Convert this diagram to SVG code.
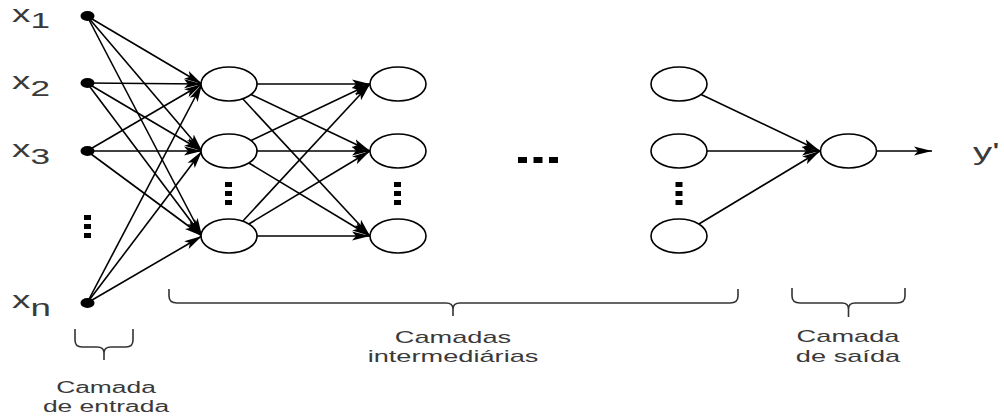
<svg xmlns="http://www.w3.org/2000/svg" width="1004" height="416" viewBox="0 0 1004 416">
  <style>
    .edge { stroke: #000; stroke-width: 1.6; fill: none; }
    .neuron { fill: #fff; stroke: #000; stroke-width: 1.6; }
    .dot { fill: #000; }
    .lbl { font-family: "Liberation Sans", Arial, sans-serif; fill: #3a3a3a; }
    .brace { stroke: #333; stroke-width: 1.6; fill: none; }
  </style>
  <defs>
    <marker id="arrow" markerUnits="userSpaceOnUse" markerWidth="18" markerHeight="10" viewBox="0 0 18 10" refX="18" refY="5" orient="auto">
      <path d="M0,0.5 L18,5 L0,9.5 L4,5 z" fill="#000"/>
    </marker>
  </defs>
  <rect width="1004" height="416" fill="#fff"/>

  <!-- connectors -->
  <g id="connectors">
    <!-- input layer to first hidden layer -->
    <g marker-end="url(#arrow)">
      <line class="edge" x1="87" y1="16" x2="202" y2="84"/>
      <line class="edge" x1="87" y1="16" x2="202" y2="151"/>
      <line class="edge" x1="87" y1="16" x2="202" y2="236"/>
      <line class="edge" x1="87" y1="83" x2="202" y2="84"/>
      <line class="edge" x1="87" y1="83" x2="202" y2="151"/>
      <line class="edge" x1="87" y1="83" x2="202" y2="236"/>
      <line class="edge" x1="87" y1="151" x2="202" y2="84"/>
      <line class="edge" x1="87" y1="151" x2="202" y2="151"/>
      <line class="edge" x1="87" y1="151" x2="202" y2="236"/>
      <line class="edge" x1="87" y1="303" x2="202" y2="84"/>
      <line class="edge" x1="87" y1="303" x2="202" y2="151"/>
      <line class="edge" x1="87" y1="303" x2="202" y2="236"/>
    </g>
    <!-- first hidden layer to second hidden layer -->
    <g marker-end="url(#arrow)">
      <line class="edge" x1="257" y1="84" x2="370" y2="84"/>
      <line class="edge" x1="251" y1="94.5" x2="370" y2="151"/>
      <line class="edge" x1="242.7" y1="98.8" x2="370" y2="236"/>
      <line class="edge" x1="251.1" y1="140.5" x2="370" y2="84"/>
      <line class="edge" x1="257" y1="151" x2="370" y2="151"/>
      <line class="edge" x1="248.9" y1="163" x2="370" y2="236"/>
      <line class="edge" x1="242.7" y1="221.2" x2="370" y2="84"/>
      <line class="edge" x1="248.9" y1="224" x2="370" y2="151"/>
      <line class="edge" x1="257" y1="236" x2="370" y2="236"/>
    </g>
    <!-- last hidden layer to output -->
    <g marker-end="url(#arrow)">
      <line class="edge" x1="701.1" y1="94.5" x2="820" y2="151"/>
      <line class="edge" x1="707" y1="151" x2="820" y2="151"/>
      <line class="edge" x1="698.9" y1="224" x2="820" y2="151"/>
      <line class="edge" x1="877" y1="151" x2="932" y2="151"/>
    </g>
  </g>

  <!-- input layer -->
  <g id="input-x1">
    <ellipse class="dot" cx="87.5" cy="16" rx="7" ry="5"/>
    <g transform="translate(12,0) scale(1.6,1)"><text class="lbl" font-size="23" x="0" y="22">x<tspan font-size="22" dy="6">1</tspan></text></g>
  </g>
  <g id="input-x2">
    <ellipse class="dot" cx="87.5" cy="83" rx="7" ry="5"/>
    <g transform="translate(12,0) scale(1.6,1)"><text class="lbl" font-size="23" x="0" y="89">x<tspan font-size="22" dy="7">2</tspan></text></g>
  </g>
  <g id="input-x3">
    <ellipse class="dot" cx="87.5" cy="151" rx="7" ry="5"/>
    <g transform="translate(12,0) scale(1.6,1)"><text class="lbl" font-size="23" x="0" y="157">x<tspan font-size="22" dy="7">3</tspan></text></g>
  </g>
  <g id="input-dots">
    <rect class="dot" x="84" y="215" width="7" height="5"/>
    <rect class="dot" x="84" y="224" width="7" height="5"/>
    <rect class="dot" x="84" y="233" width="7" height="5"/>
  </g>
  <g id="input-xn">
    <ellipse class="dot" cx="87.5" cy="303" rx="7" ry="5"/>
    <g transform="translate(12,0) scale(1.6,1)"><text class="lbl" font-size="23" x="0" y="308">x<tspan font-size="23" dy="8">n</tspan></text></g>
  </g>

  <!-- first hidden layer -->
  <g id="h1-1"><ellipse class="neuron" cx="229" cy="84" rx="28" ry="17"/></g>
  <g id="h1-2"><ellipse class="neuron" cx="229" cy="151" rx="28" ry="17"/></g>
  <g id="h1-dots">
    <rect class="dot" x="225" y="182" width="7" height="5"/>
    <rect class="dot" x="225" y="191" width="7" height="5"/>
    <rect class="dot" x="225" y="200" width="7" height="5"/>
  </g>
  <g id="h1-3"><ellipse class="neuron" cx="229" cy="236" rx="28" ry="17"/></g>

  <!-- second hidden layer -->
  <g id="h2-1"><ellipse class="neuron" cx="398" cy="84" rx="28" ry="17"/></g>
  <g id="h2-2"><ellipse class="neuron" cx="398" cy="151" rx="28" ry="17"/></g>
  <g id="h2-dots">
    <rect class="dot" x="394" y="182" width="7" height="5"/>
    <rect class="dot" x="394" y="191" width="7" height="5"/>
    <rect class="dot" x="394" y="200" width="7" height="5"/>
  </g>
  <g id="h2-3"><ellipse class="neuron" cx="398" cy="236" rx="28" ry="17"/></g>

  <!-- elided layers -->
  <g id="layer-ellipsis">
    <rect class="dot" x="518" y="157" width="9" height="6"/>
    <rect class="dot" x="533.5" y="157" width="9" height="6"/>
    <rect class="dot" x="549" y="157" width="9" height="6"/>
  </g>

  <!-- last hidden layer -->
  <g id="hk-1"><ellipse class="neuron" cx="679" cy="84" rx="28" ry="17"/></g>
  <g id="hk-2"><ellipse class="neuron" cx="679" cy="151" rx="28" ry="17"/></g>
  <g id="hk-dots">
    <rect class="dot" x="675.5" y="182" width="7" height="5"/>
    <rect class="dot" x="675.5" y="191" width="7" height="5"/>
    <rect class="dot" x="675.5" y="200" width="7" height="5"/>
  </g>
  <g id="hk-3"><ellipse class="neuron" cx="679" cy="236" rx="28" ry="17"/></g>

  <!-- output layer -->
  <g id="output"><ellipse class="neuron" cx="848.5" cy="151" rx="28" ry="17"/></g>
  <g id="output-label">
    <g transform="translate(973,0) scale(1.6,1)"><text class="lbl" font-size="24" x="0" y="160">y'</text></g>
  </g>

  <!-- layer braces and captions -->
  <g id="brace-input">
    <path class="brace" d="M75,329 V340 Q75,347 82,347 H97 Q104,347 104,353 Q104,347 111,347 H126 Q133,347 133,340 V329 M104,353 V360"/>
    <g transform="translate(106,0) scale(1.65,1)">
      <text class="lbl" font-size="16" x="0" y="393" text-anchor="middle">Camada</text>
      <text class="lbl" font-size="16" x="0" y="412" text-anchor="middle">de entrada</text>
    </g>
  </g>
  <g id="brace-hidden">
    <path class="brace" d="M169,289 V296 Q169,303 177,303 H446 Q453,303 453,309 Q453,303 460,303 H730 Q738,303 738,296 V289 M453,309 V316"/>
    <g transform="translate(453,0) scale(1.6,1)">
      <text class="lbl" font-size="17" x="0" y="343" text-anchor="middle">Camadas</text>
      <text class="lbl" font-size="17" x="0" y="362" text-anchor="middle">intermediárias</text>
    </g>
  </g>
  <g id="brace-output">
    <path class="brace" d="M792,288 V296 Q792,303 800,303 H842 Q848.5,303 848.5,309 Q848.5,303 855,303 H897 Q905,303 905,296 V288 M848.5,309 V317"/>
    <g transform="translate(848,0) scale(1.6,1)">
      <text class="lbl" font-size="17" x="0" y="342" text-anchor="middle">Camada</text>
      <text class="lbl" font-size="17" x="0" y="362" text-anchor="middle">de saída</text>
    </g>
  </g>
</svg>
